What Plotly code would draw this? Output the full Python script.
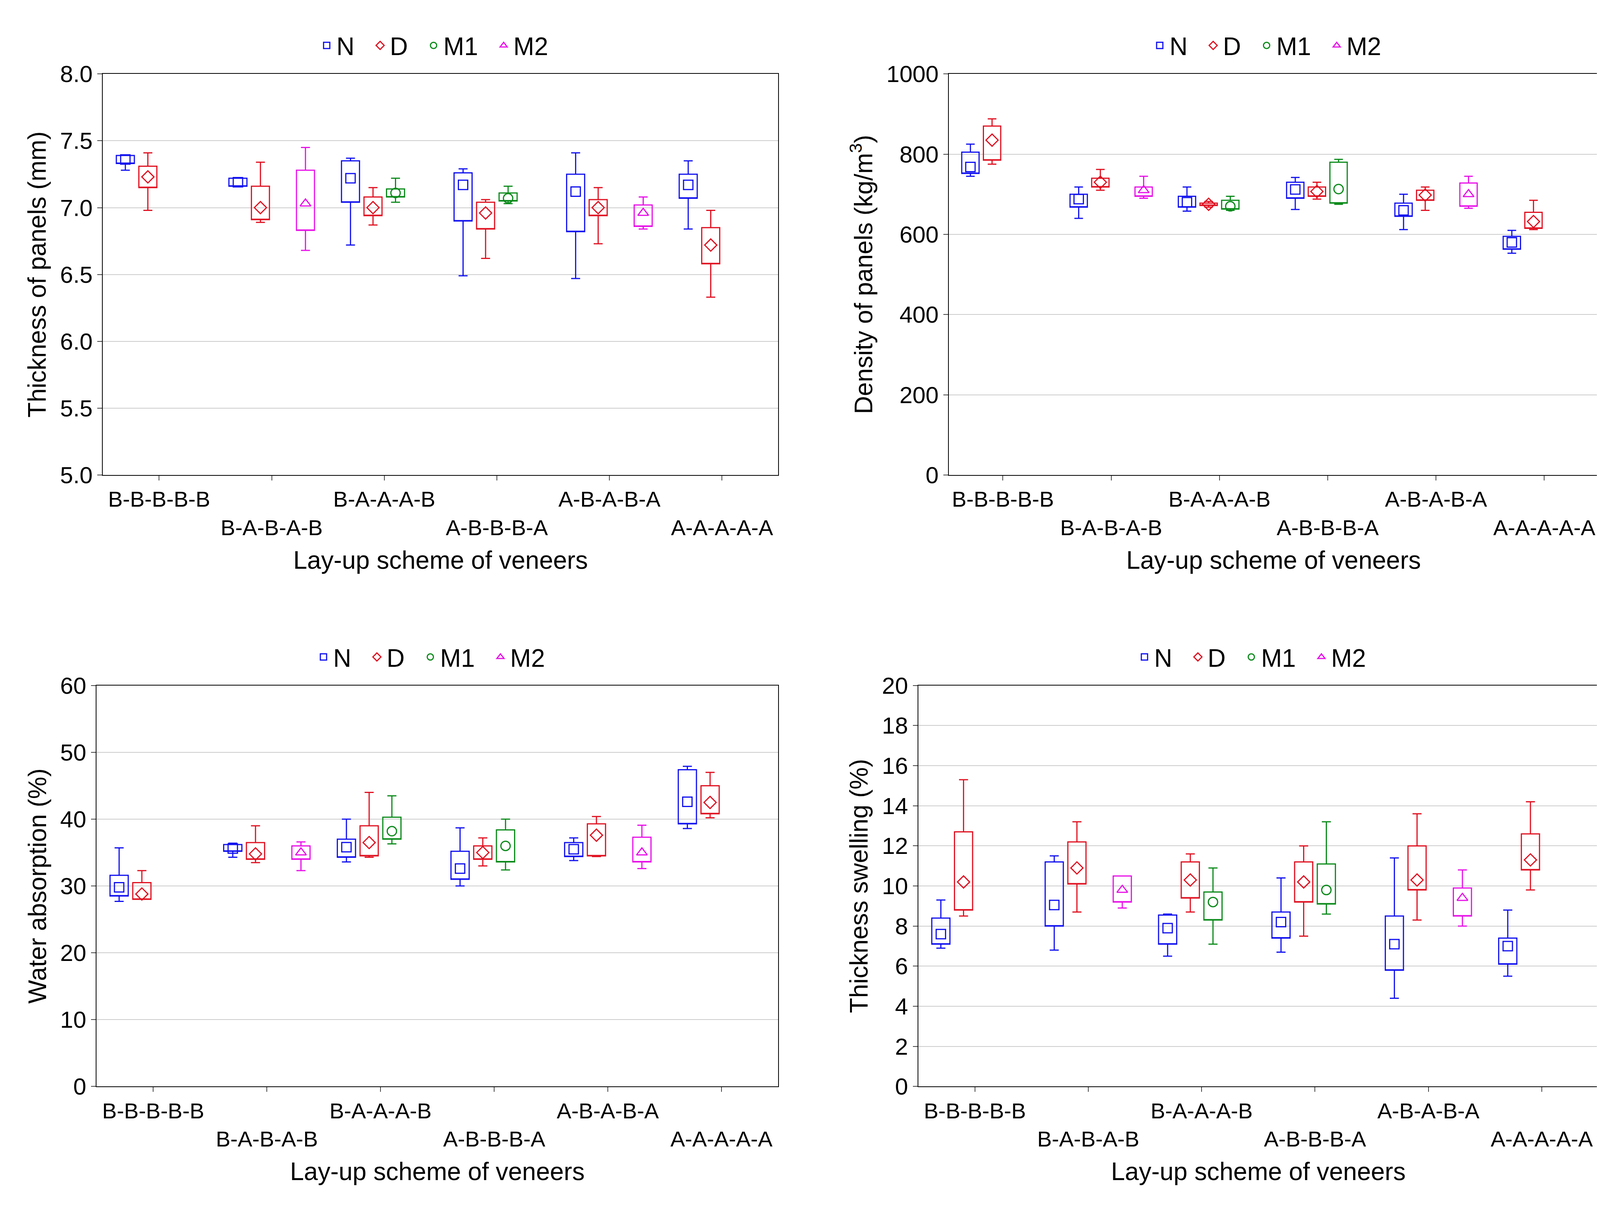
import plotly.graph_objects as go
from plotly.subplots import make_subplots

schemes = ["B-B-B-B-B", "B-A-B-A-B", "B-A-A-A-B", "A-B-B-B-A", "A-B-A-B-A", "A-A-A-A-A"]
groups = ["N", "D", "M1", "M2"]
colors = {"N": "#1010f0", "D": "#e01020", "M1": "#0a8a1a", "M2": "#e810e8"}
symbols = {"N": "square-open", "D": "diamond-open", "M1": "circle-open", "M2": "triangle-up-open"}

# per group: {scheme index: (lower whisker, q1, mean, q3, upper whisker)}
thickness = {
    "N": {0: (7.28, 7.33, 7.36, 7.39, 7.39), 1: (7.16, 7.16, 7.19, 7.22, 7.22),
          2: (6.72, 7.04, 7.22, 7.35, 7.37), 3: (6.49, 6.90, 7.17, 7.26, 7.29),
          4: (6.47, 6.82, 7.12, 7.25, 7.41), 5: (6.84, 7.07, 7.17, 7.25, 7.35)},
    "D": {0: (6.98, 7.15, 7.23, 7.31, 7.41), 1: (6.89, 6.91, 7.00, 7.16, 7.34),
          2: (6.87, 6.94, 7.00, 7.08, 7.15), 3: (6.62, 6.84, 6.96, 7.04, 7.06),
          4: (6.73, 6.94, 7.00, 7.06, 7.15), 5: (6.33, 6.58, 6.72, 6.85, 6.98)},
    "M1": {2: (7.04, 7.08, 7.11, 7.14, 7.22), 3: (7.03, 7.05, 7.07, 7.11, 7.16)},
    "M2": {1: (6.68, 6.83, 7.03, 7.28, 7.45), 4: (6.84, 6.86, 6.96, 7.02, 7.08)},
}
density = {
    "N": {0: (745, 752, 768, 805, 825), 1: (640, 668, 688, 700, 718),
          2: (658, 668, 680, 695, 718), 3: (662, 690, 712, 730, 742),
          4: (612, 645, 660, 678, 700), 5: (553, 563, 580, 595, 610)},
    "D": {0: (775, 785, 835, 870, 888), 1: (710, 718, 730, 740, 762),
          2: (668, 672, 675, 678, 682), 3: (688, 695, 707, 718, 730),
          4: (660, 685, 698, 710, 718), 5: (612, 615, 632, 655, 685)},
    "M1": {2: (660, 663, 670, 685, 695), 3: (675, 678, 713, 780, 787)},
    "M2": {1: (690, 695, 710, 718, 745), 4: (665, 670, 700, 728, 745)},
}
absorption = {
    "N": {0: (27.7, 28.5, 29.8, 31.6, 35.7), 1: (34.3, 35.2, 35.6, 36.2, 36.4),
          2: (33.6, 34.3, 35.8, 37.0, 40.0), 3: (30.0, 31.0, 32.6, 35.2, 38.7),
          4: (33.8, 34.4, 35.5, 36.5, 37.2), 5: (38.6, 39.3, 42.6, 47.4, 47.9)},
    "D": {0: (28.0, 28.0, 28.8, 30.5, 32.3), 1: (33.5, 34.0, 34.8, 36.5, 39.0),
          2: (34.3, 34.5, 36.5, 39.0, 44.0), 3: (33.0, 34.0, 35.0, 36.0, 37.2),
          4: (34.4, 34.5, 37.6, 39.3, 40.4), 5: (40.2, 40.8, 42.5, 45.0, 47.0)},
    "M1": {2: (36.3, 37.0, 38.2, 40.3, 43.5), 3: (32.4, 33.6, 36.0, 38.4, 40.0)},
    "M2": {1: (32.3, 34.0, 35.0, 36.0, 36.6), 4: (32.6, 33.6, 35.0, 37.3, 39.1)},
}
swelling = {
    "N": {0: (6.9, 7.1, 7.6, 8.4, 9.3), 1: (6.8, 8.0, 9.05, 11.2, 11.5),
          2: (6.5, 7.1, 7.9, 8.55, 8.6), 3: (6.7, 7.4, 8.2, 8.7, 10.4),
          4: (4.4, 5.8, 7.1, 8.5, 11.4), 5: (5.5, 6.1, 7.0, 7.4, 8.8)},
    "D": {0: (8.5, 8.8, 10.2, 12.7, 15.3), 1: (8.7, 10.1, 10.9, 12.2, 13.2),
          2: (8.7, 9.4, 10.3, 11.2, 11.6), 3: (7.5, 9.2, 10.2, 11.2, 12.0),
          4: (8.3, 9.8, 10.3, 12.0, 13.6), 5: (9.8, 10.8, 11.3, 12.6, 14.2)},
    "M1": {2: (7.1, 8.3, 9.2, 9.7, 10.9), 3: (8.6, 9.1, 9.8, 11.1, 13.2)},
    "M2": {1: (8.9, 9.2, 9.8, 10.5, 10.5), 4: (8.0, 8.5, 9.4, 9.9, 10.8)},
}

panels = [
    (thickness, "Thickness of panels (mm)", [5, 8], 0.5, ".1f"),
    (density, "Density of panels (kg/m<sup>3</sup>)", [0, 1000], 200, ""),
    (absorption, "Water absorption (%)", [0, 60], 10, ""),
    (swelling, "Thickness swelling (%)", [0, 20], 2, ""),
]
xdom = [(0.062, 0.482), (0.588, 0.992), (0.058, 0.482), (0.569, 0.992)]
ydom = [(0.612, 0.951), (0.612, 0.951), (0.095, 0.434), (0.095, 0.434)]

fig = make_subplots(rows=2, cols=2)
font = "Liberation Sans, Arial, sans-serif"
ticktext = [s if i % 2 == 0 else "<br>" + s for i, s in enumerate(schemes)]

for p, (data, ytitle, yr, dt, fmt) in enumerate(panels):
    r, c = p // 2 + 1, p % 2 + 1
    leg = "legend" if p == 0 else f"legend{p + 1}"
    for k, g in enumerate(groups):
        idx = sorted(data[g])
        xs = [i + (k - 1.5) * 0.2 for i in idx]
        vals = [data[g][i] for i in idx]
        fig.add_trace(go.Box(
            x=xs, lowerfence=[v[0] for v in vals], q1=[v[1] for v in vals],
            median=[v[1] for v in vals], q3=[v[3] for v in vals],
            upperfence=[v[4] for v in vals], width=0.16, whiskerwidth=0.5,
            line=dict(color=colors[g], width=3), fillcolor="rgba(0,0,0,0)",
            showlegend=False, hoverinfo="skip"), row=r, col=c)
        fig.add_trace(go.Scatter(
            x=xs, y=[v[2] for v in vals], mode="markers", name=g + "  ", legend=leg,
            marker=dict(symbol=symbols[g], size=24, color=colors[g], line=dict(width=3))),
            row=r, col=c)
    fig.update_xaxes(row=r, col=c, domain=xdom[p], range=[-0.5, 5.5],
                     tickvals=list(range(6)), ticktext=ticktext, ticks="outside",
                     ticklen=12, tickwidth=2, showgrid=False, zeroline=False,
                     showline=True, mirror=True, linecolor="black", linewidth=2,
                     title=dict(text="Lay-up scheme of veneers", font=dict(size=64),
                                standoff=30),
                     tickfont=dict(size=56))
    fig.update_yaxes(row=r, col=c, domain=ydom[p], range=yr, dtick=dt, tickformat=fmt,
                     ticks="outside", ticklen=12, tickwidth=2, showgrid=True,
                     gridcolor="#cccccc", gridwidth=2, zeroline=False,
                     showline=True, mirror=True, linecolor="black", linewidth=2,
                     title=dict(text=ytitle, font=dict(size=64)), tickfont=dict(size=60))
    xc = (xdom[p][0] + xdom[p][1]) / 2
    fig.update_layout({leg: dict(orientation="h", x=xc, xanchor="center",
                                 y=ydom[p][1] + 0.008, yanchor="bottom",
                                 font=dict(size=64), bgcolor="rgba(0,0,0,0)",
                                 itemwidth=40)})

fig.update_layout(width=4117, height=3095, plot_bgcolor="white", paper_bgcolor="white",
                  font=dict(family=font, color="black"),
                  margin=dict(l=0, r=0, t=0, b=0))
fig.write_html("out.html")
